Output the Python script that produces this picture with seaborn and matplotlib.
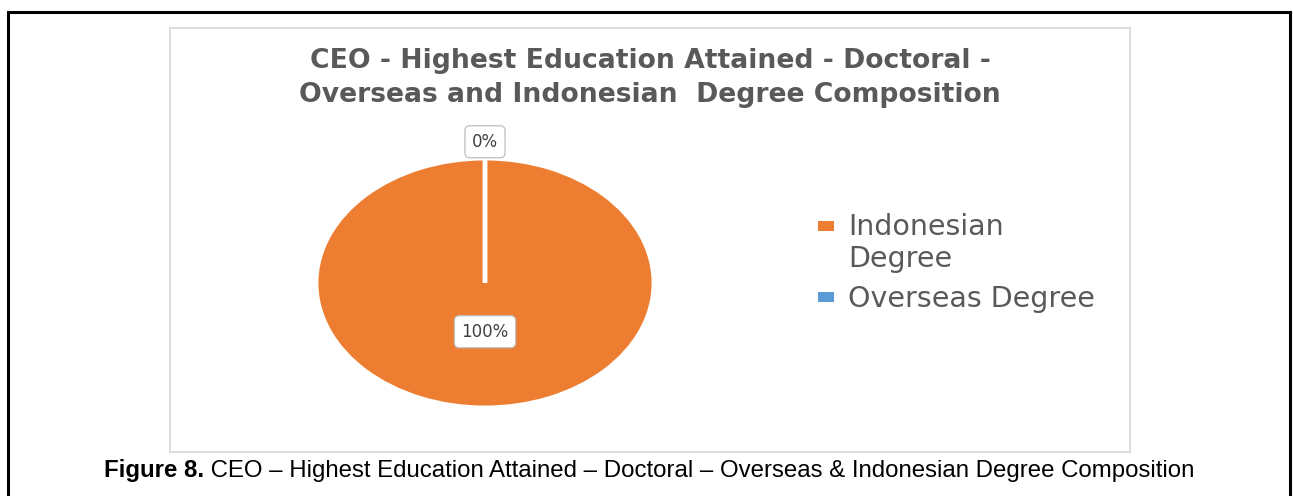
import matplotlib
matplotlib.use("Agg")
import matplotlib.pyplot as plt
import matplotlib.patches as mpatches
from matplotlib.lines import Line2D
import numpy as np
import seaborn as sns

# Degree composition (percent of CEOs with a doctoral degree)
categories = ["Indonesian\nDegree", "Overseas Degree"]
shares = [100, 0]
colors = ["#ED7D31", "#5B9BD5"]

title = "CEO - Highest Education Attained - Doctoral -\nOverseas and Indonesian  Degree Composition"
caption_bold = "Figure 8."
caption_rest = " CEO \u2013 Highest Education Attained \u2013 Doctoral \u2013 Overseas & Indonesian Degree Composition"

sns.set_theme(style="white")
plt.rcParams["font.family"] = ["DejaVu Sans"]

W, H = 1293, 496
fig = plt.figure(figsize=(W / 100, H / 100), dpi=100)
fig.patch.set_facecolor("white")


def fx(px):
    return px / W


def fy(py):
    return 1 - py / H


# outer frame (bottom edge runs past the canvas)
fig.patches.append(mpatches.Rectangle((fx(8), fy(520)), fx(1290) - fx(8), fy(12) - fy(520),
                                      transform=fig.transFigure, fill=False,
                                      edgecolor="black", linewidth=2.2, zorder=0))
# chart area box
fig.patches.append(mpatches.Rectangle((fx(170), fy(452)), fx(1130) - fx(170), fy(28) - fy(452),
                                      transform=fig.transFigure, fill=False,
                                      edgecolor="#D9D9D9", linewidth=1.3, zorder=0))

# pie axes: centre (485, 283), radii 169 x 125 px
cx, cy, rx, ry = 485, 283, 169, 125
lim = 1.3
ax = fig.add_axes([fx(cx - lim * rx), fy(cy + lim * ry), 2 * lim * rx / W, 2 * lim * ry / H])
wedges, _ = ax.pie(shares, colors=colors, startangle=90, counterclock=False,
                   wedgeprops=dict(edgecolor="white", linewidth=3.5))
ax.set_aspect("auto")
ax.set_xlim(-lim, lim)
ax.set_ylim(-lim, lim)
ax.axis("off")

# data labels at each slice's mid-angle
total = sum(shares)
start = 90.0
for v in shares:
    sweep = 360.0 * v / total
    mid = np.deg2rad(start - sweep / 2)
    r = 0.39 if v > 0 else 1.13
    ax.text(r * np.cos(mid), r * np.sin(mid), f"{v:.0f}%", ha="center", va="center",
            fontsize=12, color="#404040",
            bbox=dict(boxstyle="round,pad=0.42,rounding_size=0.3", fc="white",
                      ec="#BFBFBF", lw=0.9))
    start -= sweep

fig.text(fx(650), fy(78), title, ha="center", va="center", fontsize=19.2,
         fontweight="bold", color="#595959", linespacing=1.36)

# legend with flat rectangular swatches in the slice colours
swatch = [(-1.5, -1), (1.5, -1), (1.5, 1), (-1.5, 1)]
handles = [Line2D([], [], linestyle="none", marker=swatch, markersize=11,
                  markerfacecolor=c, markeredgewidth=0) for c in colors]
leg = fig.legend(handles, categories, loc="upper left",
                 bbox_to_anchor=(fx(817), fy(213)), frameon=False,
                 fontsize=20.5, labelcolor="#595959", handlelength=0.6,
                 handleheight=1.3, handletextpad=0.5, labelspacing=0.4,
                 borderaxespad=0, borderpad=0)
# keep each swatch level with the first line of its label
for column in leg._legend_handle_box.get_children():
    for row in column.get_children():
        row.align = "top"

# caption: bold figure number followed by regular text
cap_font = ["Liberation Sans", "DejaVu Sans"]
t1 = fig.text(0, fy(471), caption_bold, ha="left", va="center", fontsize=17.3,
              fontweight="bold", family=cap_font, color="black")
t2 = fig.text(0, fy(471), caption_rest, ha="left", va="center", fontsize=17.3,
              family=cap_font, color="black")
fig.canvas.draw()
r = fig.canvas.get_renderer()
w1 = t1.get_window_extent(r).width
w2 = t2.get_window_extent(r).width
x0 = 649 - (w1 + w2) / 2
t1.set_x(fx(x0))
t2.set_x(fx(x0 + w1))

fig.savefig("out.png", dpi=100, facecolor="white")
